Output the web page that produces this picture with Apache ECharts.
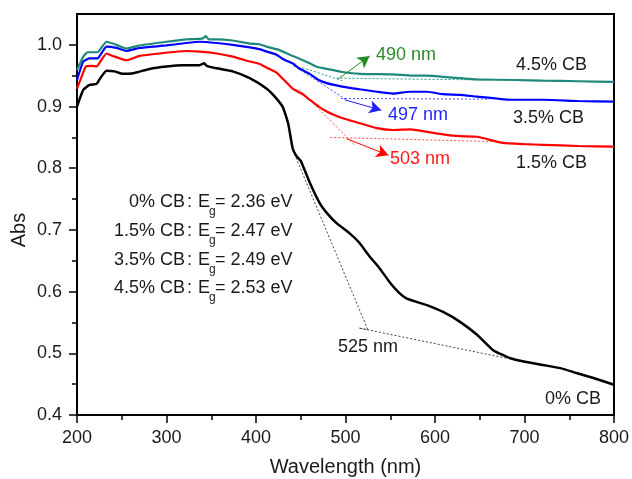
<!DOCTYPE html>
<html>
<head>
	<meta charset="utf-8">
	<title>Abs vs wavelength</title>
	<style>
		html, body { margin: 0; padding: 0; background: #fff; }
		#main { width: 632px; height: 479px; }
	</style>
</head>
<body>
	<div id="main"></div>
	<script src="https://cdn.jsdelivr.net/npm/echarts@6/dist/echarts.min.js"></script>
	<script type="text/javascript">
		// 0% CB (black)
		var wl0 = [200, 207, 214, 222, 226, 233, 242, 251, 263, 281, 300, 318, 337, 342, 345, 356, 374, 393, 412, 421, 430, 436, 441, 445, 450, 460, 471, 480, 490, 505, 515, 527, 538, 550, 560, 568, 580, 591, 609, 628, 647, 665, 684, 702, 721, 740, 758, 777, 800];
		var abs0 = [0.900, 0.927, 0.935, 0.937, 0.946, 0.958, 0.957, 0.953, 0.954, 0.961, 0.965, 0.967, 0.967, 0.970, 0.966, 0.962, 0.957, 0.946, 0.929, 0.916, 0.899, 0.872, 0.832, 0.820, 0.812, 0.777, 0.744, 0.726, 0.711, 0.694, 0.680, 0.657, 0.638, 0.614, 0.598, 0.589, 0.583, 0.578, 0.567, 0.551, 0.530, 0.505, 0.492, 0.486, 0.481, 0.476, 0.468, 0.460, 0.449];

		// 1.5% CB (red)
		var wl15 = [200, 205, 210, 216, 222, 227, 233, 240, 255, 270, 292, 322, 337, 356, 374, 393, 404, 412, 423, 430, 441, 452, 460, 470, 479, 488, 497, 516, 535, 553, 572, 591, 609, 628, 647, 676, 700, 721, 760, 800];
		var abs15 = [0.929, 0.948, 0.965, 0.966, 0.965, 0.975, 0.986, 0.982, 0.975, 0.982, 0.986, 0.990, 0.989, 0.986, 0.981, 0.973, 0.969, 0.963, 0.955, 0.945, 0.929, 0.920, 0.911, 0.900, 0.892, 0.886, 0.881, 0.873, 0.865, 0.862, 0.863, 0.859, 0.855, 0.852, 0.851, 0.841, 0.839, 0.838, 0.836, 0.835];

		// 3.5% CB (blue)
		var wl35 = [200, 207, 214, 223, 228, 233, 244, 255, 270, 300, 322, 337, 356, 374, 393, 404, 412, 423, 430, 442, 448, 460, 470, 479, 498, 516, 535, 553, 572, 591, 609, 628, 647, 684, 721, 760, 800];
		var abs35 = [0.943, 0.973, 0.978, 0.978, 0.988, 0.997, 0.995, 0.990, 0.995, 0.999, 1.003, 1.005, 1.003, 1.000, 0.996, 0.993, 0.989, 0.984, 0.977, 0.969, 0.962, 0.953, 0.943, 0.938, 0.932, 0.928, 0.924, 0.921, 0.924, 0.924, 0.920, 0.919, 0.916, 0.911, 0.911, 0.909, 0.908];

		// 4.5% CB (teal)
		var wl45 = [200, 207, 212, 223, 228, 233, 244, 255, 270, 300, 322, 340, 344, 347, 356, 374, 393, 404, 412, 423, 430, 441, 448, 460, 467, 479, 497, 516, 553, 575, 591, 610, 628, 647, 690, 721, 760, 800];
		var abs45 = [0.959, 0.981, 0.988, 0.988, 0.997, 1.005, 1.000, 0.994, 0.999, 1.005, 1.009, 1.010, 1.014, 1.009, 1.009, 1.007, 1.002, 1.001, 0.997, 0.993, 0.989, 0.982, 0.978, 0.970, 0.965, 0.961, 0.956, 0.953, 0.952, 0.950, 0.950, 0.948, 0.946, 0.944, 0.943, 0.942, 0.941, 0.940];

		// tangent lines (dotted) used to find the band edge
		var tan0 = [[443, 0.823], [525, 0.538], [515, 0.541], [680, 0.492]];
		var tan15 = [[448, 0.928], [510, 0.838]];
		var base15 = [[483, 0.850], [669, 0.843]];
		var tan35 = [[442, 0.966], [500, 0.912]];
		var base35 = [[495, 0.913], [661, 0.912]];
		var tan45 = [[452, 0.963], [496, 0.942]];
		var base45 = [[490, 0.946], [658, 0.943]];

		// arrows from the edge point to the label
		var arrow45 = [[492, 0.945], [527, 0.982]];
		var arrow35 = [[499, 0.911], [540, 0.894]];
		var arrow15 = [[501, 0.848], [548, 0.821]];

		var yMajor = [0.4, 0.5, 0.6, 0.7, 0.8, 0.9, 1.0];
		var yMinor = [0.45, 0.55, 0.65, 0.75, 0.85, 0.95];

		var egNames = ['0% CB', '1.5% CB', '3.5% CB', '4.5% CB'];
		var egValues = ['2.36', '2.47', '2.49', '2.53'];

		function zip(xs, ys) {
			var out = [];
			for (var i = 0; i < xs.length; i++) out.push([xs[i], ys[i]]);
			return out;
		}

		var FONT = '"Liberation Sans", Arial, sans-serif';
		var TXT = '#1a1a1a';

		function curve(name, data, color, width) {
			return {
				name: name, type: 'line', data: data, showSymbol: false, symbol: 'none',
				smooth: 0.15,
				lineStyle: { color: color, width: width }, z: 3
			};
		}
		function dotted(data, color) {
			return {
				type: 'line', data: data, showSymbol: false, symbol: 'none',
				lineStyle: { color: color, width: 1, type: [2, 2] }, z: 2
			};
		}
		function arrow(pts, color) {
			return {
				type: 'line', data: [], z: 4,
				markLine: {
					silent: true, animation: false,
					symbol: ['none', 'arrow'], symbolSize: [10, 12],
					label: { show: false },
					lineStyle: { color: color, width: 1, type: 'solid' },
					data: [[{ coord: pts[0] }, { coord: pts[1] }]]
				}
			};
		}
		function label(text, x, y, color, align) {
			return {
				type: 'text', x: x, y: y, z: 10,
				style: {
					text: text, font: '18px ' + FONT, fill: color || TXT,
					align: align || 'left', textAlign: align || 'left',
					verticalAlign: 'middle', textVerticalAlign: 'middle'
				}
			};
		}

		var graphics = [
			label('490 nm', 376, 55, '#2a8a2a'),
			label('497 nm', 388, 115, '#1f1fff'),
			label('503 nm', 390, 159, '#ff1a1a'),
			label('4.5% CB', 516, 65),
			label('3.5% CB', 513, 118),
			label('1.5% CB', 516, 163),
			label('0% CB', 545, 399),
			label('525 nm', 338, 347),
			{
				type: 'text', x: 19, y: 230, rotation: Math.PI / 2, z: 10,
				style: {
					text: 'Abs', font: '20px ' + FONT, fill: TXT,
					align: 'center', textAlign: 'center',
					verticalAlign: 'middle', textVerticalAlign: 'middle'
				}
			}
		];
		var egY = [202, 231, 260, 288];
		for (var i = 0; i < egNames.length; i++) {
			graphics.push(label(egNames[i], 185, egY[i], TXT, 'right'));
			graphics.push(label(':', 187, egY[i]));
			graphics.push(label('E', 198, egY[i]));
			graphics.push({
				type: 'text', x: 209, y: egY[i] + 10, z: 10,
				style: { text: 'g', font: '12px ' + FONT, fill: TXT, verticalAlign: 'middle', textVerticalAlign: 'middle' }
			});
			graphics.push(label('= ' + egValues[i] + ' eV', 215, egY[i]));
		}

		var myChart = echarts.init(document.getElementById('main'));
		var option = {
			animation: false,
			backgroundColor: '#fff',
			grid: {
				left: 77, right: 18, top: 14, bottom: 64,
				outerBoundsMode: 'none', containLabel: false,
				show: true, borderColor: '#000', borderWidth: 2, backgroundColor: 'transparent'
			},
			xAxis: {
				type: 'value', min: 200, max: 800, interval: 100,
				name: 'Wavelength (nm)', nameLocation: 'middle', nameGap: 42,
				nameTextStyle: { fontFamily: FONT, fontSize: 20, color: TXT },
				axisLine: { show: true, onZero: false, lineStyle: { color: '#000', width: 2 } },
				axisTick: { show: true, inside: false, length: 8, lineStyle: { color: '#000', width: 1.5 } },
				minorTick: { show: true, splitNumber: 2, length: 5, lineStyle: { color: '#000', width: 1.5 } },
				axisLabel: { fontFamily: FONT, fontSize: 18, color: TXT, margin: 14 },
				splitLine: { show: false }
			},
			yAxis: [{
				type: 'value', min: 0.4, max: 1.05,
				axisLine: { show: true, onZero: false, lineStyle: { color: '#000', width: 2 } },
				axisTick: { show: true, inside: false, length: 8, customValues: yMajor, lineStyle: { color: '#000', width: 1.5 } },
				axisLabel: {
					fontFamily: FONT, fontSize: 18, color: TXT, margin: 15, customValues: yMajor,
					formatter: function (v) { return v.toFixed(1); }
				},
				splitLine: { show: false }
			}, {
				type: 'value', min: 0.4, max: 1.05, position: 'left',
				axisLine: { show: false },
				axisTick: { show: true, inside: false, length: 5, customValues: yMinor, lineStyle: { color: '#000', width: 1.5 } },
				axisLabel: { show: false },
				splitLine: { show: false }
			}],
			graphic: graphics,
			series: [
				dotted(tan0, '#444'),
				dotted(tan15, '#ff4d4d'),
				dotted(base15, '#ff4d4d'),
				dotted(tan35, '#4d4dff'),
				dotted(base35, '#4d4dff'),
				dotted(tan45, '#2a9a8a'),
				dotted(base45, '#2a9a8a'),
				curve('0% CB', zip(wl0, abs0), '#000', 2.5),
				curve('1.5% CB', zip(wl15, abs15), '#ff0000', 2.2),
				curve('3.5% CB', zip(wl35, abs35), '#0000ff', 2.2),
				curve('4.5% CB', zip(wl45, abs45), '#1f8a7c', 2.2),
				arrow(arrow45, '#1e8c1e'),
				arrow(arrow35, '#2020ff'),
				arrow(arrow15, '#ff0000')
			]
		};
		myChart.setOption(option);
	</script>
</body>
</html>
